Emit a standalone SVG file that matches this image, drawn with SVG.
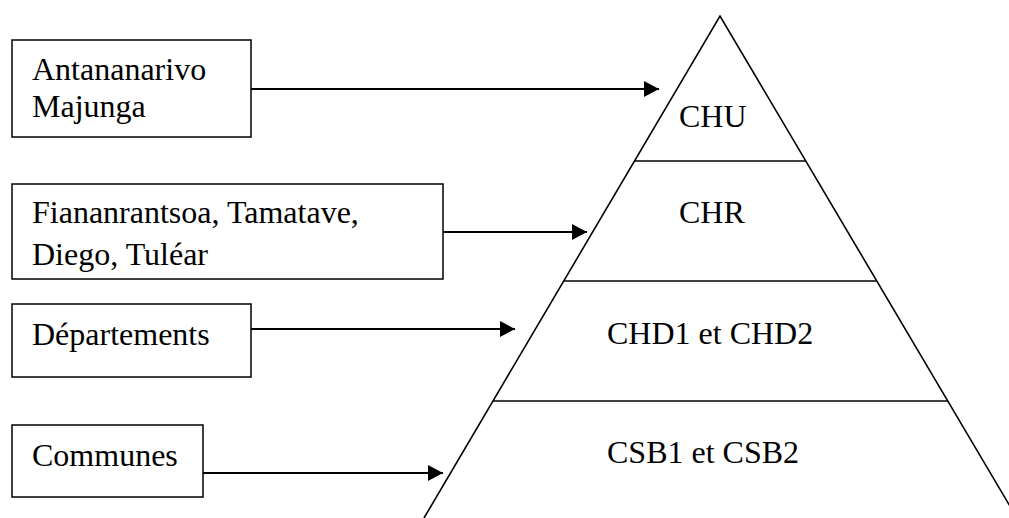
<svg xmlns="http://www.w3.org/2000/svg" width="1009" height="518" viewBox="0 0 1009 518">
<style>
.box{fill:#fff;stroke:#000;stroke-width:1.5}
.t{font-family:"Liberation Serif","Times New Roman",serif;font-size:32px;fill:#000}
.ln{stroke:#000;stroke-width:1.6;fill:none}
.ar{stroke:#000;stroke-width:2;fill:none;marker-end:url(#ah)}
</style>
<defs>
<marker id="ah" markerUnits="userSpaceOnUse" markerWidth="15" markerHeight="16" refX="15" refY="8" orient="auto">
<path d="M0,0 L15,8 L0,16 Z" fill="#000"/>
</marker>
</defs>
<rect width="1009" height="518" fill="#fff"/>
<g id="pyramid">
<polyline class="ln" points="424,518 720,16 1017,518"/>
<line class="ln" x1="634.5" y1="161" x2="805.5" y2="161"/>
<line class="ln" x1="563.5" y1="281" x2="877" y2="281"/>
<line class="ln" x1="493" y1="401" x2="948" y2="401"/>
</g>
<g id="level-chu"><text class="t" x="679" y="127">CHU</text></g>
<g id="level-chr"><text class="t" x="679" y="223">CHR</text></g>
<g id="level-chd"><text class="t" x="607" y="344">CHD1 et CHD2</text></g>
<g id="level-csb"><text class="t" x="607" y="463">CSB1 et CSB2</text></g>
<g id="box-antananarivo">
<rect class="box" x="12" y="40" width="239" height="97"/>
<text class="t" x="32" y="80">Antananarivo</text>
<text class="t" x="32" y="117">Majunga</text>
</g>
<g id="box-fianarantsoa">
<rect class="box" x="12" y="184" width="431" height="95"/>
<text class="t" x="32" y="223">Fiananrantsoa, Tamatave,</text>
<text class="t" x="32" y="265">Diego, Tuléar</text>
</g>
<g id="box-departements">
<rect class="box" x="12" y="304" width="239" height="73"/>
<text class="t" x="32" y="345">Départements</text>
</g>
<g id="box-communes">
<rect class="box" x="12" y="425" width="191" height="72"/>
<text class="t" x="32" y="466">Communes</text>
</g>
<g id="connectors">
<line class="ar" x1="251" y1="89" x2="659" y2="89"/>
<line class="ar" x1="443" y1="232" x2="587" y2="232"/>
<line class="ar" x1="251" y1="329" x2="515" y2="329"/>
<line class="ar" x1="203" y1="473" x2="443" y2="473"/>
</g>
</svg>
